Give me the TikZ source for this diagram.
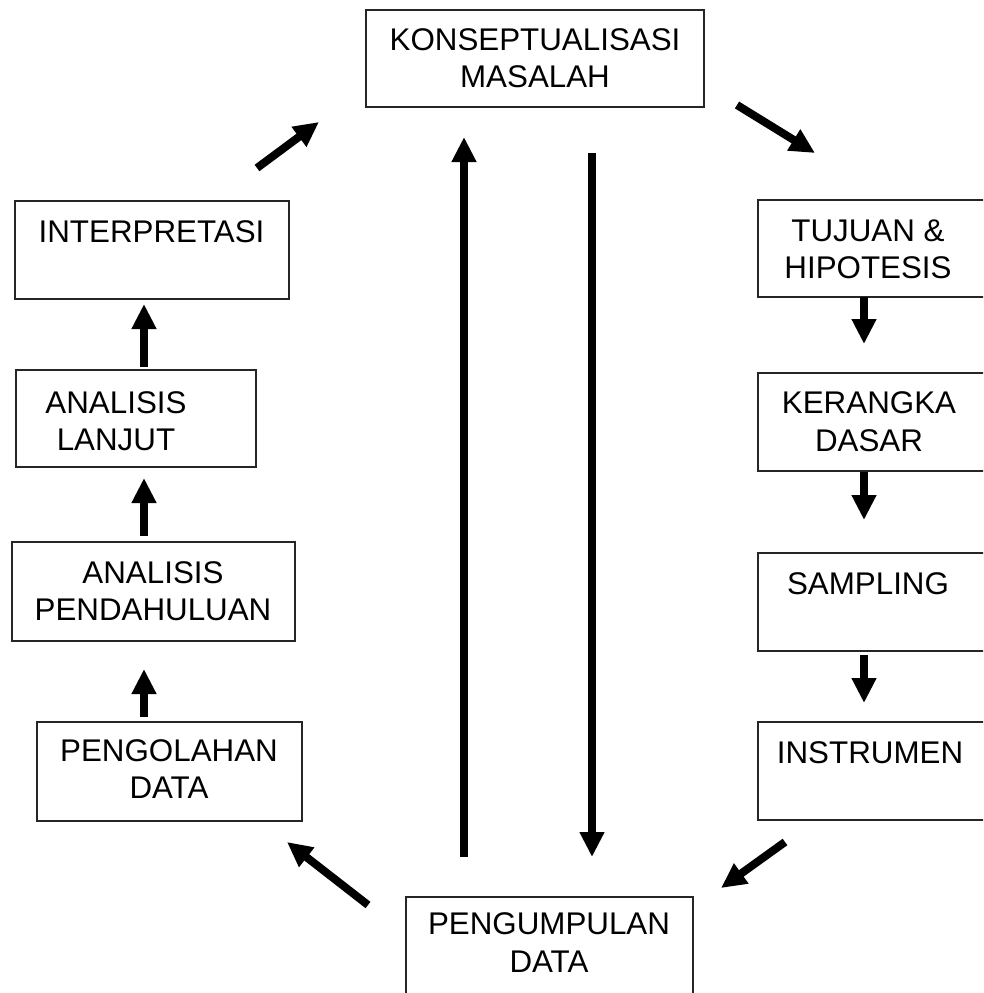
\documentclass[tikz,border=0pt]{standalone}
\usepackage{fontspec}
\setmainfont{Liberation Sans}
\usetikzlibrary{arrows.meta}
\begin{document}
\begin{tikzpicture}[x=0.75pt,y=-0.75pt,
  boxnode/.style={draw=black!85,line width=1pt,inner sep=0pt,fill=none},
  lbl/.style={inner sep=0pt,align=center,font=\fontsize{23.5pt}{28.1pt}\selectfont},
  thickarrow/.style={line width=6pt,-{Triangle[length=18.75pt,width=17.5pt]}}]
\useasboundingbox (0,0) rectangle (983,993);
\clip (0,0) rectangle (983,993);
% boxes
\node[boxnode,minimum width=253.5pt,minimum height=72.75pt] (konsep) at (535,58.5) {};
\node[boxnode,minimum width=174pt,minimum height=72.75pt] (tujuan) at (874,248.5) {};
\node[boxnode,minimum width=174pt,minimum height=73.5pt] (kerangka) at (874,422) {};
\node[boxnode,minimum width=174pt,minimum height=73.5pt] (sampling) at (874,602) {};
\node[boxnode,minimum width=174pt,minimum height=73.5pt] (instrumen) at (874,771) {};
\node[boxnode,minimum width=215.25pt,minimum height=73.5pt] (kumpul) at (549.5,946) {};
\node[boxnode,minimum width=198.75pt,minimum height=74.25pt] (olah) at (169.5,771.5) {};
\node[boxnode,minimum width=212.25pt,minimum height=74.25pt] (pend) at (153.5,591.5) {};
\node[boxnode,minimum width=180pt,minimum height=72.75pt] (lanjut) at (136,418.5) {};
\node[boxnode,minimum width=205.5pt,minimum height=73.5pt] (interp) at (152,250) {};
% texts
\node[lbl] (tkonsep) at (535,58) {KONSEPTUALISASI\\MASALAH};
\node[lbl] (ttujuan) at (868,249.5) {TUJUAN \&\\HIPOTESIS};
\node[lbl] (tkerangka) at (869,421.5) {KERANGKA\\DASAR};
\node[lbl] (tsampling) at (868,584) {SAMPLING};
\node[lbl] (tinstrumen) at (870,753) {INSTRUMEN};
\node[lbl] (tkumpul) at (549,942.5) {PENGUMPULAN\\DATA};
\node[lbl] (tolah) at (169,769) {PENGOLAHAN\\DATA};
\node[lbl] (tpend) at (153,591) {ANALISIS\\PENDAHULUAN};
\node[lbl] (tlanjut) at (116,421) {ANALISIS\\LANJUT};
\node[lbl] (tinterp) at (151.5,231.5) {INTERPRETASI};
% arrow end points
\coordinate (upA) at (464,857);   \coordinate (upB) at (464,137);
\coordinate (dnA) at (592,153);   \coordinate (dnB) at (592,857);
\coordinate (l1A) at (144,367);   \coordinate (l1B) at (144,304);
\coordinate (l2A) at (144,536);   \coordinate (l2B) at (144,478);
\coordinate (l3A) at (144,717);   \coordinate (l3B) at (144,669);
\coordinate (r1A) at (864,297);   \coordinate (r1B) at (864,344);
\coordinate (r2A) at (864,472);   \coordinate (r2B) at (864,520);
\coordinate (r3A) at (864,655);   \coordinate (r3B) at (864,703);
\coordinate (d1A) at (257,168);   \coordinate (d1B) at (319,122);
\coordinate (d2A) at (737,105);   \coordinate (d2B) at (815,153);
\coordinate (d3A) at (785,842);   \coordinate (d3B) at (721,888);
\coordinate (d4A) at (368,905);   \coordinate (d4B) at (287,842);
% arrows
\draw[thickarrow] (upA) -- (upB);
\draw[thickarrow] (dnA) -- (dnB);
\draw[thickarrow] (l1A) -- (l1B);
\draw[thickarrow] (l2A) -- (l2B);
\draw[thickarrow] (l3A) -- (l3B);
\draw[thickarrow] (r1A) -- (r1B);
\draw[thickarrow] (r2A) -- (r2B);
\draw[thickarrow] (r3A) -- (r3B);
\draw[thickarrow] (d1A) -- (d1B);
\draw[thickarrow] (d2A) -- (d2B);
\draw[thickarrow] (d3A) -- (d3B);
\draw[thickarrow] (d4A) -- (d4B);
\end{tikzpicture}
\end{document}
